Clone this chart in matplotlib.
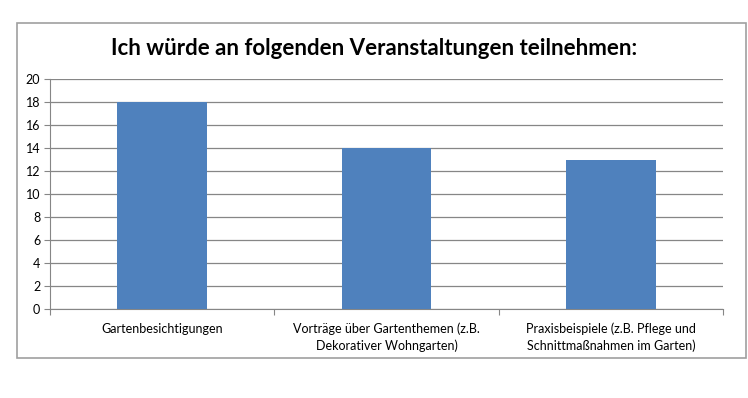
import matplotlib.pyplot as plt
from matplotlib.patches import Rectangle

categories = ['Gartenbesichtigungen',
              'Vorträge über Gartenthemen (z.B.\nDekorativer Wohngarten)',
              'Praxisbeispiele (z.B. Pflege und\nSchnittmaßnahmen im Garten)']
values = [18, 14, 13]
yticks = [0, 2, 4, 6, 8, 10, 12, 14, 16, 18, 20]

plt.rcParams['font.family'] = ['Lato', 'DejaVu Sans']

fig = plt.figure(figsize=(7.48, 3.98), dpi=100)
fig.patches.append(Rectangle((0.0227, 0.1005), 0.9746, 0.8417, transform=fig.transFigure,
                             fill=False, edgecolor='#a0a0a0', linewidth=1.2))

ax = fig.add_axes([0.0668, 0.2236, 0.8998, 0.5779])
x = range(len(values))
ax.bar(x, values, width=0.4, color='#4f81bd', zorder=3)

ax.set_xlim(-0.5, 2.5)
ax.set_ylim(0, 20)
ax.set_yticks(yticks)
ax.tick_params(axis='y', labelsize=9, length=4, color='#868686', pad=3)
ax.yaxis.grid(True, color='#868686', linewidth=0.9, zorder=0)

ax.set_xticks([-0.5, 0.5, 1.5, 2.5])
ax.set_xticklabels([])
ax.set_xticks(list(x), minor=True)
ax.set_xticklabels(categories, minor=True, fontsize=9, linespacing=1.4)
ax.tick_params(axis='x', which='major', length=4, color='#868686')
ax.tick_params(axis='x', which='minor', length=0, pad=10)

for s in ['top', 'right']:
    ax.spines[s].set_visible(False)
ax.spines['left'].set_color('#868686')
ax.spines['bottom'].set_color('#868686')

fig.text(0.5, 0.878, 'Ich würde an folgenden Veranstaltungen teilnehmen:',
         ha='center', va='center', fontsize=16, fontweight='bold')

fig.savefig('out.png', dpi=100)
